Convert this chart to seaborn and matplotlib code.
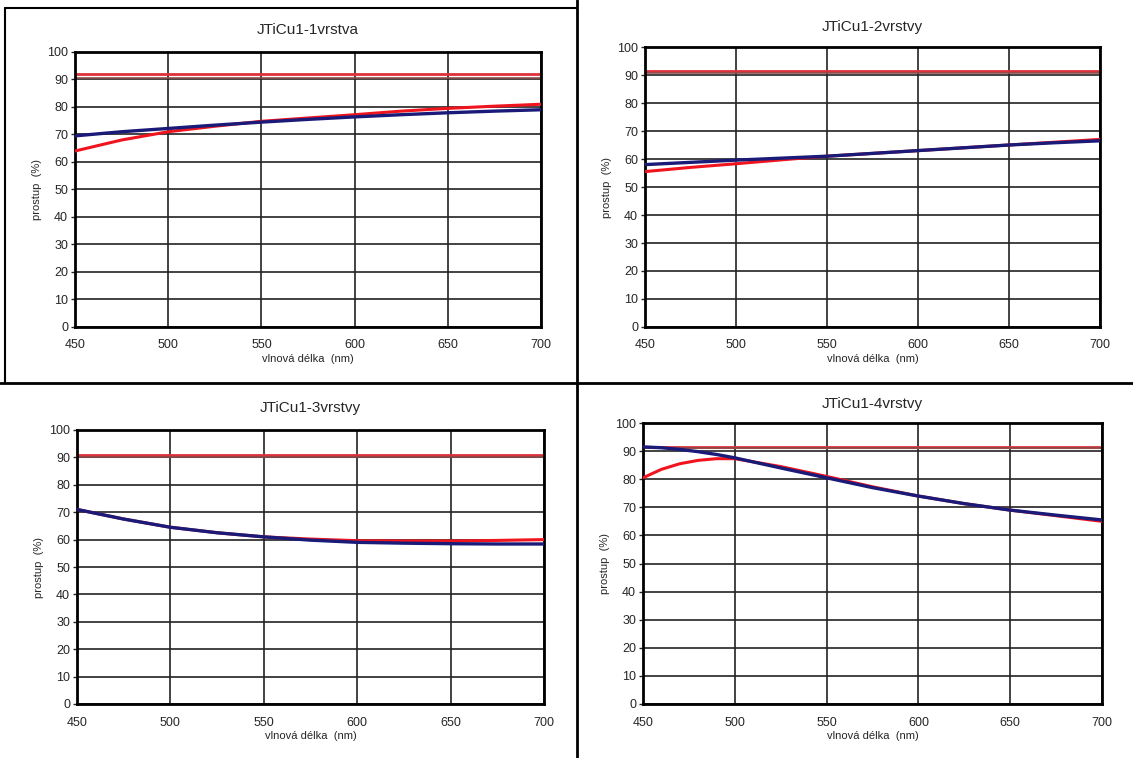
import pandas as pd
import matplotlib.pyplot as plt
import seaborn as sns
from matplotlib.lines import Line2D

# vlnova delka (nm)
wl = [450, 475, 500, 525, 550, 575, 600, 625, 650, 675, 700]
wl_4 = [450, 460, 470, 480, 490, 500, 525, 550, 575, 600, 625, 650, 675, 700]

titles = ["JTiCu1-1vrstva", "JTiCu1-2vrstvy", "JTiCu1-3vrstvy", "JTiCu1-4vrstvy"]

# namerene (cervena) a vypoctene (modra) prostupy
red_1 = [64.0, 68.0, 71.0, 73.0, 74.8, 76.0, 77.2, 78.5, 79.5, 80.3, 81.0]
blue_1 = [69.5, 71.0, 72.2, 73.4, 74.5, 75.5, 76.4, 77.2, 77.9, 78.5, 79.0]
red_2 = [55.5, 57.0, 58.3, 59.7, 61.0, 62.0, 63.0, 64.0, 65.0, 66.0, 67.0]
blue_2 = [58.0, 58.8, 59.6, 60.3, 61.0, 62.0, 63.0, 64.0, 65.0, 65.8, 66.5]
red_3 = [71.0, 67.5, 64.5, 62.5, 61.0, 60.2, 59.6, 59.5, 59.5, 59.7, 60.0]
blue_3 = [71.0, 67.5, 64.5, 62.5, 61.0, 59.8, 59.0, 58.7, 58.5, 58.4, 58.4]
red_4 = [80.5, 83.5, 85.5, 86.7, 87.3, 87.3, 84.5, 81.0, 77.3, 74.0, 71.3, 69.0, 67.0, 65.0]
blue_4 = [91.5, 91.2, 90.6, 89.8, 88.8, 87.6, 84.0, 80.5, 77.0, 74.0, 71.3, 69.0, 67.2, 65.5]

# prostup substratu (vodorovne cary)
sub_red = [92.0, 91.5, 91.0, 91.5]
sub_brown = [90.6, 90.6, 90.2, 91.0]

reds = [red_1, red_2, red_3, red_4]
blues = [blue_1, blue_2, blue_3, blue_4]
wls = [wl, wl, wl, wl_4]

sns.set_style("white")
plt.rcParams['font.family'] = ['Liberation Sans', 'DejaVu Sans']

fig = plt.figure(figsize=(11.33, 7.58), dpi=100)
W, H = 1133, 758
# pozice os v pixelech: (x0, y_top, x1, y_bottom)
boxes = [(75, 52, 541, 327), (645, 47, 1100, 327), (77, 430, 544, 704), (643, 423, 1102, 704)]
title_y = [30, 27, 408, 404]

for i, (x0, yt, x1, yb) in enumerate(boxes):
    ax = fig.add_axes([x0 / W, 1 - yb / H, (x1 - x0) / W, (yb - yt) / H])
    df = pd.DataFrame({"wl": wls[i], "red": reds[i], "blue": blues[i]})
    ax.axhline(sub_red[i], color="#e0303a", lw=2.0, zorder=2)
    ax.axhline(sub_brown[i], color="#8a4a48", lw=1.5, alpha=0.8, zorder=2)
    sns.lineplot(data=df, x="wl", y="red", color="#f0141e", lw=2.2, ax=ax, zorder=3)
    sns.lineplot(data=df, x="wl", y="blue", color="#1a1a78", lw=2.4, ax=ax, zorder=4)
    ax.set_xlim(450, 700)
    ax.set_ylim(0, 100)
    ax.set_xticks(range(450, 701, 50))
    ax.set_yticks(range(0, 101, 10))
    ax.grid(True, color="#222222", lw=1.2)
    ax.set_axisbelow(True)
    for s in ax.spines.values():
        s.set_color("black")
        s.set_linewidth(2)
    ax.tick_params(axis="both", labelsize=9, length=3, width=1, direction="out",
                   left=True, bottom=False, pad=2)
    ax.tick_params(axis="x", pad=6)
    ax.set_xlabel("vlnová délka  (nm)", fontsize=8, labelpad=2)
    ax.set_ylabel("prostup  (%)", fontsize=8, labelpad=4)
    fig.text((x0 + x1) / 2 / W, 1 - title_y[i] / H, titles[i], ha="center", va="center", fontsize=11)

# oddelovaci cary panelu
fig.add_artist(Line2D([577 / W, 577 / W], [0, 1], color="black", lw=2))
fig.add_artist(Line2D([0, 1], [1 - 383 / H, 1 - 383 / H], color="black", lw=2))
fig.add_artist(Line2D([5 / W, 5 / W], [1 - 383 / H, 1 - 8 / H], color="black", lw=1.5))
fig.add_artist(Line2D([5 / W, 577 / W], [1 - 8 / H, 1 - 8 / H], color="black", lw=1.5))

fig.savefig("out.png", dpi=100)
